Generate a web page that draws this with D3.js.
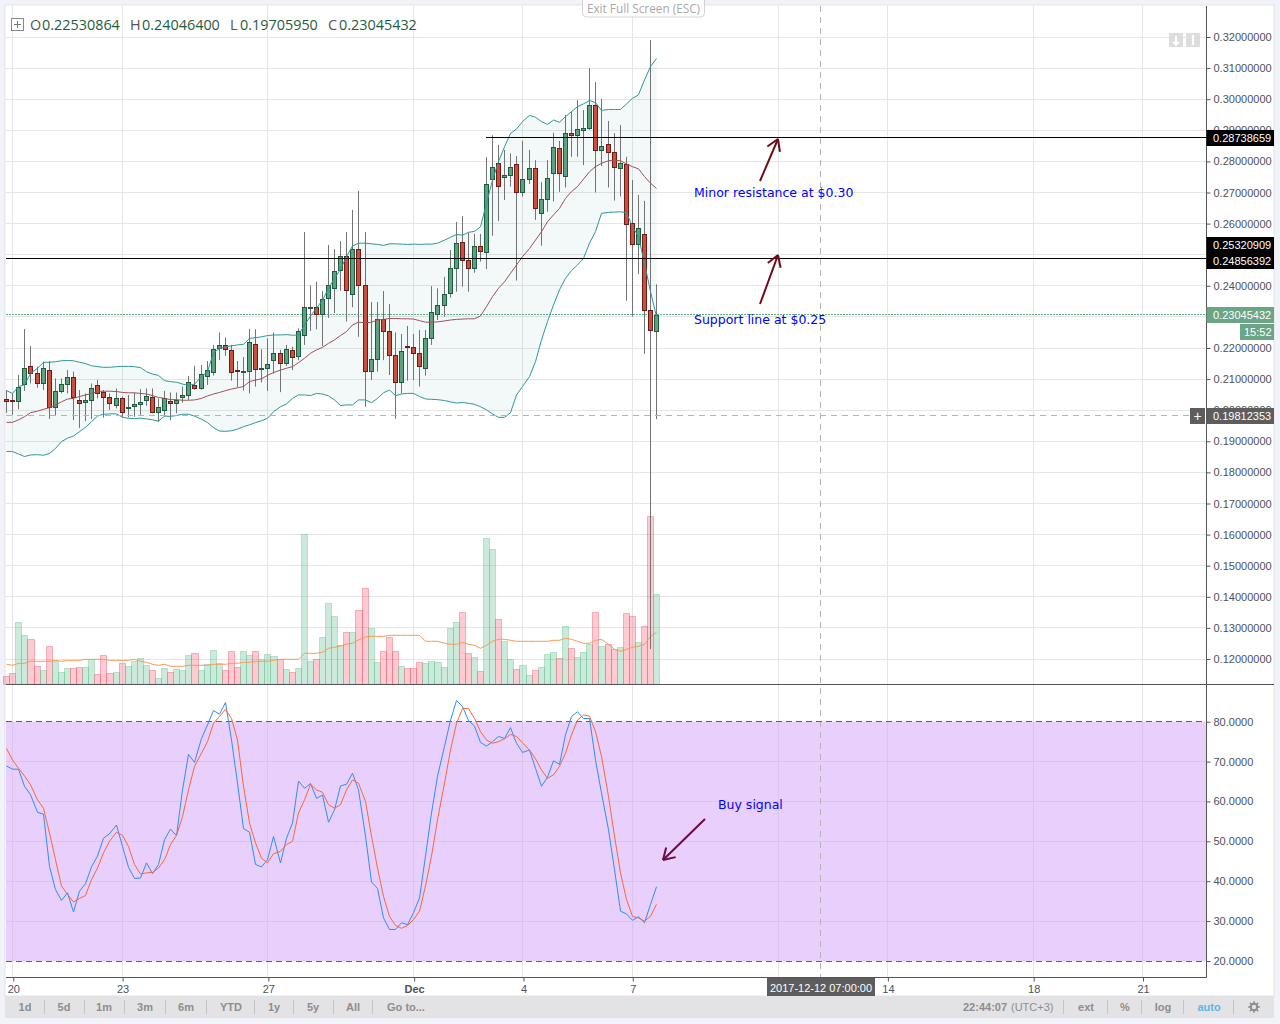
<!DOCTYPE html>
<html>
<head>
<meta charset="utf-8">
<script src="https://d3js.org/d3.v7.min.js"></script>
<style>
  body { margin: 0; background: #f1f3f9; }
  svg { display: block; }
  .axis text { font: 11px "Liberation Sans", Arial, sans-serif; fill: #4c525e; }
  .axis line { stroke: #555; }
  .axis path { display: none; }
  .flag { font: 11px "Liberation Sans", Arial, sans-serif; fill: #fff; }
  .note { font: 12.5px "DejaVu Sans", Verdana, sans-serif; fill: #0000ff; }
  .tool { font: bold 11px "Liberation Sans", Arial, sans-serif; fill: #8d8d8d; }
</style>
</head>
<body>
<div id="chart"></div>
<script>
// 4h candles
const opens = [.2035,.2030,.2027,.2083,.2141,.2118,.2085,.2128,.2008,.2060,
  .2082,.2106,.2032,.2024,.2031,.2080,.2057,.2041,.2015,.2038,
  .2005,.2011,.2018,.2031,.2042,.1992,.1999,.2029,.2021,.2040,
  .2047,.2080,.2069,.2108,.2121,.2198,.2209,.2193,.2128,.2124,
  .2124,.2212,.2131,.2134,.2159,.2183,.2150,.2193,.2172,.2240,
  .2327,.2331,.2307,.2359,.2391,.2449,.2495,.2373,.2518,.2401,
  .2125,.2164,.2292,.2254,.2176,.2090,.2204,.2202,.2183,.2135,
  .2231,.2309,.2337,.2376,.2456,.2540,.2482,.2456,.2527,.2508,
  .2742,.2794,.2749,.2755,.2791,.2701,.2742,.2778,.2633,.2678,
  .2762,.2842,.2752,.2890,.2883,.2900,.2906,.2980,.2836,.2855,
  .2829,.2778,.2791,.2601,.2533,.2565,.2321,.2253];
const highs = [.2065,.2054,.2113,.2261,.2206,.2140,.2156,.2158,.2102,.2102,
  .2129,.2124,.2065,.2054,.2086,.2097,.2065,.2054,.2070,.2044,
  .2049,.2056,.2068,.2070,.2070,.2038,.2062,.2057,.2057,.2076,
  .2110,.2143,.2145,.2158,.2210,.2250,.2234,.2210,.2158,.2171,
  .2261,.2260,.2196,.2231,.2250,.2194,.2210,.2204,.2263,.2573,
  .2401,.2413,.2383,.2531,.2518,.2544,.2573,.2644,.2705,.2573,
  .2348,.2348,.2383,.2341,.2250,.2245,.2271,.2245,.2258,.2258,
  .2399,.2392,.2429,.2515,.2605,.2624,.2571,.2567,.2567,.2814,
  .2884,.2853,.2837,.2826,.2817,.2866,.2837,.2804,.2733,.2804,
  .2892,.2866,.2949,.2962,.2997,.2965,.3100,.3055,.3001,.2930,
  .2891,.2917,.2815,.2740,.2692,.2673,.3190,.2405];
const lows = [.1992,.1985,.2003,.2062,.2086,.2072,.2065,.1972,.1983,.2054,
  .2054,.1968,.1943,.1965,.1972,.2038,.1976,.2001,.2006,.1977,
  .1977,.1979,.1985,.2014,.1990,.1963,.1981,.1968,.1990,.2024,
  .2033,.2066,.2066,.2081,.2111,.2161,.2175,.2095,.2074,.2063,
  .2054,.2076,.2089,.2062,.2118,.2058,.2142,.2129,.2161,.2210,
  .2255,.2260,.2206,.2297,.2312,.2384,.2285,.2331,.2236,.2011,
  .2097,.2124,.2161,.2113,.1973,.2054,.2095,.2097,.2076,.2111,
  .2210,.2290,.2301,.2362,.2381,.2397,.2381,.2442,.2478,.2454,
  .2561,.2609,.2676,.2719,.2417,.2687,.2727,.2612,.2529,.2638,
  .2671,.2702,.2716,.2815,.2815,.2788,.2901,.2700,.2785,.2716,
  .2674,.2687,.2352,.2301,.2438,.2181,.1232,.1971];
const closes = [.2027,.2027,.2074,.2135,.2117,.2085,.2135,.2008,.2061,.2083,
  .2106,.2040,.2021,.2032,.2070,.2054,.2040,.2021,.2038,.1992,
  .2009,.2019,.2025,.2045,.1992,.2009,.2038,.2021,.2032,.2048,
  .2090,.2069,.2115,.2128,.2196,.2209,.2195,.2121,.2124,.2126,
  .2218,.2130,.2134,.2147,.2183,.2150,.2196,.2169,.2254,.2331,
  .2329,.2307,.2356,.2401,.2447,.2495,.2384,.2518,.2401,.2124,
  .2164,.2292,.2254,.2175,.2090,.2189,.2202,.2183,.2140,.2231,
  .2315,.2337,.2373,.2456,.2537,.2482,.2456,.2527,.2510,.2726,
  .2781,.2719,.2755,.2781,.2701,.2742,.2778,.2649,.2678,.2746,
  .2845,.2762,.2890,.2883,.2903,.2906,.2980,.2836,.2848,.2829,
  .2781,.2794,.2598,.2533,.2585,.2321,.2257,.2305];

// Bollinger bands
const bbUpper = [.2063,.2054,.2076,.2082,.2118,.2135,.2154,.2154,.2156,.2159,
  .2160,.2159,.2154,.2150,.2143,.2140,.2138,.2138,.2140,.2141,
  .2141,.2140,.2137,.2124,.2116,.2112,.2095,.2092,.2090,.2084,
  .2080,.2084,.2108,.2124,.2185,.2198,.2204,.2207,.2210,.2212,
  .2231,.2233,.2236,.2240,.2242,.2242,.2243,.2241,.2242,.2274,
  .2303,.2328,.2354,.2392,.2424,.2453,.2494,.2528,.2537,.2537,
  .2535,.2533,.2530,.2535,.2535,.2534,.2533,.2534,.2533,.2534,
  .2534,.2537,.2547,.2556,.2565,.2563,.2572,.2575,.2590,.2665,
  .2740,.2799,.2847,.2890,.2904,.2928,.2948,.2942,.2928,.2919,
  .2933,.2926,.2944,.2960,.2976,.2985,.2996,.2989,.2964,.2967,
  .2967,.2967,.2985,.3003,.3014,.3062,.3105,.3131];
const bbBasis = [.1961,.1961,.1969,.1979,.1992,.1997,.2003,.2008,.2017,.2027,
  .2036,.2038,.2044,.2049,.2054,.2060,.2061,.2061,.2060,.2057,
  .2056,.2056,.2054,.2052,.2047,.2041,.2038,.2034,.2034,.2032,
  .2032,.2033,.2038,.2046,.2052,.2057,.2063,.2068,.2072,.2076,
  .2092,.2097,.2101,.2112,.2121,.2129,.2135,.2140,.2153,.2167,
  .2183,.2194,.2202,.2215,.2226,.2240,.2253,.2274,.2283,.2281,
  .2283,.2290,.2292,.2295,.2295,.2294,.2294,.2293,.2288,.2283,
  .2283,.2284,.2287,.2290,.2292,.2293,.2294,.2294,.2303,.2333,
  .2365,.2392,.2413,.2440,.2467,.2494,.2520,.2547,.2574,.2606,
  .2628,.2649,.2681,.2703,.2719,.2743,.2767,.2783,.2794,.2802,
  .2804,.2802,.2792,.2783,.2776,.2751,.2730,.2713];
const bbLower = [.1867,.1867,.1859,.1851,.1856,.1857,.1855,.1861,.1877,.1899,
  .1910,.1917,.1931,.1945,.1963,.1981,.1987,.1988,.1988,.1977,
  .1974,.1973,.1974,.1972,.1969,.1965,.1981,.1980,.1983,.1987,
  .1987,.1981,.1971,.1960,.1944,.1933,.1932,.1934,.1939,.1947,
  .1953,.1960,.1966,.1974,.1995,.2011,.2020,.2038,.2049,.2049,
  .2047,.2054,.2052,.2046,.2033,.2015,.2017,.2017,.2033,.2033,
  .2024,.2038,.2056,.2065,.2047,.2052,.2054,.2054,.2044,.2036,
  .2035,.2034,.2031,.2027,.2023,.2025,.2022,.2019,.2011,.2001,
  .1988,.1977,.1977,.1992,.2049,.2076,.2108,.2156,.2226,.2285,
  .2338,.2387,.2424,.2449,.2467,.2488,.2537,.2574,.2633,.2636,
  .2637,.2638,.2635,.2590,.2558,.2472,.2381,.2301];

// volume, unit is arbitrary (no volume axis in the picture)
const volumes = [24,33,186,147,135,54,42,114,69,36,
  48,48,51,51,75,30,87,33,36,63,
  54,69,78,57,42,18,48,36,45,42,
  87,93,42,60,102,63,42,99,51,99,
  87,99,75,90,84,75,45,36,48,450,
  69,75,141,243,204,115,156,156,222,288,
  168,66,99,141,99,54,48,48,66,63,
  69,66,51,168,186,216,93,81,39,438,
  405,195,129,75,45,57,27,42,51,90,
  96,78,174,108,81,96,120,216,114,120,
  105,111,213,204,126,174,504,270];
const volumeMa = [60,57,63,63,69,69,69,69,72,69,
  72,72,72,75,75,75,75,72,72,72,
  72,75,69,66,60,57,60,54,54,54,
  57,57,57,57,60,60,60,63,63,66,
  66,69,69,69,72,75,75,75,75,93,
  93,93,96,108,111,115,121,123,133,142,
  144,144,144,147,147,147,147,147,147,129,
  129,129,123,120,120,126,120,117,108,117,
  129,135,135,132,129,129,129,129,129,129,
  132,132,138,135,129,123,123,132,135,120,
  105,99,105,111,114,120,144,156];

// stochastic RSI
const stochK = [68.9,68.1,68.1,63.8,61.7,57.3,56.8,43.7,37.9,35.2,
  37.1,32.3,37.5,39.4,43.6,46.3,50.8,51.9,54.1,48.7,
  43.5,40.7,40.8,44.6,41.9,44.2,50.4,53.1,51.4,62.9,
  71.8,69.8,75.8,79.2,82.8,81.9,84.8,75.4,64.6,53.2,
  52.3,44.2,43.6,45.4,51.2,44.6,50.8,54.6,65.1,63.3,
  64.5,60.8,61.6,54.8,57.9,63.9,64.3,67.1,62.9,51.3,
  39.8,38.2,30.8,27.9,27.9,29.6,29.1,32.1,35.8,46.3,
  57.1,66.3,73.8,80.4,85.3,83.8,80.3,78.9,74.8,73.9,
  75.0,76.3,75.8,78.5,74.6,72.3,72.9,68.3,63.8,66.1,
  70.2,69.3,76.7,81.3,82.5,80.8,80.8,70.4,62.1,52.9,
  42.9,32.5,31.8,30.2,31.1,29.6,34.2,38.6];
const stochD = [73.3,70.4,68.3,66.4,64.2,60.4,58.3,52.1,45.4,38.8,
  36.7,34.8,35.7,36.4,40.4,43.3,47.1,50.0,52.3,51.5,
  48.7,44.2,41.8,42.1,42.2,43.3,45.4,49.2,51.5,56.2,
  62.9,68.8,72.1,75.0,79.6,81.3,83.1,80.8,75.4,63.8,
  54.6,49.6,45.8,44.6,46.9,47.5,49.2,50.0,57.1,60.4,
  64.3,62.9,62.3,59.2,58.3,59.2,62.9,65.4,64.6,60.0,
  51.3,43.3,36.2,31.2,28.9,28.2,28.9,30.4,32.5,38.8,
  46.3,55.4,64.6,72.9,79.6,83.3,83.3,80.8,77.5,75.4,
  74.6,75.0,75.7,76.8,76.3,74.7,72.9,70.7,67.9,65.8,
  66.7,68.8,72.1,76.7,80.4,81.7,81.4,77.5,71.3,61.3,
  51.3,42.1,35.4,31.2,30.8,30.0,31.2,34.2];

// axis ticks: bar index (including future bars) and label
const dateTickIndex = [1,19,43,67,85,103,127,145,169,187];
const dateTickLabel = ['20','23','27','Dec','4','7','','14','18','21'];
const priceTicks = d3.range(12,33).map(v => v / 100);
const stochTicks = [20,30,40,50,60,70,80];

const rangeButtons = [['1d',25],['5d',64],['1m',104],['3m',145],['6m',186],['YTD',231],['1y',274],['5y',313],['All',353],['Go to...',406]];
const rangeSeps = [44.5,84.5,124.5,165.5,206.5,254.5,293.5,333.5,372.5];
const rightSeps = [1063.5,1107.5,1141.5,1183.5,1233.5];

const left = 6, axisX = 1206.5, right = 1274;
const paneSplit = 684.5, axisBottom = 977.5;

const svg = d3.select('#chart').append('svg').attr('width', 1280).attr('height', 1024);

// scales
const x = d3.scaleLinear().domain([0, 107]).range([7.2, 657.1]);
const yPrice = d3.scaleLinear().domain([0.12, 0.32]).range([659, 37]);
const yVol = d3.scaleLinear().domain([0, 504]).range([684.3, 516.3]);
const yStoch = d3.scaleLinear().domain([20, 80]).range([961, 721.7]);

// candle column: wick sits on a whole pixel
const col = i => Math.floor(x(i) - 0.5) + 0.5;
const snap = v => Math.round(v - 0.5) + 0.5;
const bars = d3.range(opens.length);

// panel
svg.append('rect').attr('x', left - 1).attr('y', 5).attr('width', right - left + 1).attr('height', 991)
  .attr('fill', '#fff').attr('stroke', '#e0e3eb');

// stochastic band
svg.append('rect').attr('x', left).attr('y', yStoch(80)).attr('width', axisX - left)
  .attr('height', yStoch(20) - yStoch(80)).attr('fill', '#e9cffc');

// grid, purple where it crosses the band
const grid = svg.append('g');
grid.selectAll('.h').data(priceTicks).join('line')
  .attr('x1', left).attr('x2', axisX)
  .attr('y1', d => snap(yPrice(d))).attr('y2', d => snap(yPrice(d)))
  .attr('stroke', '#e6e6e6');
grid.selectAll('.v').data(dateTickIndex).join('line')
  .attr('x1', d => col(d)).attr('x2', d => col(d))
  .attr('y1', 6).attr('y2', axisBottom)
  .attr('stroke', '#e6e6e6');
grid.selectAll('.vs').data(dateTickIndex).join('line')
  .attr('x1', d => col(d)).attr('x2', d => col(d))
  .attr('y1', yStoch(80)).attr('y2', yStoch(20))
  .attr('stroke', '#dcc3ee');
grid.selectAll('.hs').data(stochTicks.slice(1, -1)).join('line')
  .attr('x1', left).attr('x2', axisX)
  .attr('y1', d => snap(yStoch(d))).attr('y2', d => snap(yStoch(d)))
  .attr('stroke', '#dcc3ee');

// volume
svg.append('g').selectAll('rect').data(bars).join('rect')
  .attr('x', i => col(i) - 3)
  .attr('y', i => snap(yVol(volumes[i])))
  .attr('width', i => col(i + 1) - col(i))
  .attr('height', i => yVol(0) - snap(yVol(volumes[i])))
  .attr('fill', i => closes[i] >= opens[i] ? 'rgba(83,185,135,0.3)' : 'rgba(255,82,105,0.3)')
  .attr('stroke', i => closes[i] >= opens[i] ? 'rgba(83,185,135,0.35)' : 'rgba(240,80,105,0.4)');
svg.append('path').datum(bars)
  .attr('fill', 'none').attr('stroke', '#f79a52').attr('stroke-width', 1)
  .attr('d', d3.line().x(i => col(i)).y(i => yVol(volumeMa[i])));

// bollinger
svg.append('path').datum(bars)
  .attr('fill', 'rgba(38,140,140,0.055)')
  .attr('d', d3.area().x(i => col(i)).y0(i => yPrice(bbLower[i])).y1(i => yPrice(bbUpper[i])));

// last price line under the candles
svg.append('line').attr('x1', left).attr('x2', axisX)
  .attr('y1', 314.5).attr('y2', 314.5)
  .attr('stroke', '#63ad88').attr('stroke-dasharray', '2 1');

// candles
const candle = svg.append('g');
candle.selectAll('line').data(bars).join('line')
  .attr('x1', i => col(i)).attr('x2', i => col(i))
  .attr('y1', i => yPrice(highs[i])).attr('y2', i => yPrice(lows[i]))
  .attr('stroke', '#737373');
candle.selectAll('rect').data(bars).join('rect')
  .attr('x', i => col(i) - 2)
  .attr('y', i => snap(yPrice(Math.max(opens[i], closes[i]))))
  .attr('width', 4)
  .attr('height', i => Math.max(1, snap(yPrice(Math.min(opens[i], closes[i]))) - snap(yPrice(Math.max(opens[i], closes[i])))))
  .attr('fill', i => closes[i] >= opens[i] ? '#5fa07f' : '#c9503c')
  .attr('stroke', i => closes[i] >= opens[i] ? '#1d5b3f' : '#6f1a16');

const priceLine = series => d3.line().x(i => col(i)).y(i => yPrice(series[i]));
const bandLine = (series, color) => svg.append('path').datum(bars)
  .attr('fill', 'none').attr('stroke', color).attr('stroke-width', 1)
  .attr('d', priceLine(series));
bandLine(bbUpper, '#2f9797');
bandLine(bbLower, '#2f9797');
bandLine(bbBasis, '#a05058');

// drawn lines
svg.append('line').attr('x1', 486).attr('x2', axisX).attr('y1', 137.5).attr('y2', 137.5).attr('stroke', '#000');
svg.append('line').attr('x1', left).attr('x2', axisX).attr('y1', 258.5).attr('y2', 258.5).attr('stroke', '#000');

// crosshair
svg.append('line').attr('x1', left).attr('x2', 1190).attr('y1', 415.5).attr('y2', 415.5)
  .attr('stroke', '#b4b4b4').attr('stroke-dasharray', '6 5');
svg.append('line').attr('x1', col(134)).attr('x2', col(134)).attr('y1', 6).attr('y2', axisBottom)
  .attr('stroke', '#b4b4b4').attr('stroke-dasharray', '6 5');

// stochastic lines and limits
stochTicks.filter(d => d === 20 || d === 80).forEach(d => {
  svg.append('line').attr('x1', left).attr('x2', axisX)
    .attr('y1', snap(yStoch(d))).attr('y2', snap(yStoch(d)))
    .attr('stroke', '#6a5a70').attr('stroke-dasharray', '6 4');
});
const stochLine = d3.line().x(i => col(i));
svg.append('path').datum(bars).attr('fill', 'none').attr('stroke', '#2f8ff0').attr('stroke-width', 1)
  .attr('d', stochLine.y(i => yStoch(stochK[i])));
svg.append('path').datum(bars).attr('fill', 'none').attr('stroke', '#f4693c').attr('stroke-width', 1)
  .attr('d', stochLine.y(i => yStoch(stochD[i])));

// pane borders
svg.append('line').attr('x1', left).attr('x2', right).attr('y1', paneSplit).attr('y2', paneSplit).attr('stroke', '#555');
svg.append('line').attr('x1', left).attr('x2', axisX).attr('y1', axisBottom).attr('y2', axisBottom).attr('stroke', '#555');
svg.append('line').attr('x1', axisX).attr('x2', axisX).attr('y1', 6).attr('y2', axisBottom).attr('stroke', '#555');

// axes (0.25 sits under the two flags in the picture, so no label for it)
svg.append('g').attr('class', 'axis').attr('transform', `translate(${axisX},0)`)
  .call(d3.axisRight(yPrice).tickValues(priceTicks)
    .tickFormat(d => Math.abs(d - 0.25) < 1e-9 ? '' : d3.format('.8f')(d)).tickSize(4).tickPadding(3));
svg.append('g').attr('class', 'axis').attr('transform', `translate(${axisX},0)`)
  .call(d3.axisRight(yStoch).tickValues(stochTicks).tickFormat(d3.format('.4f')).tickSize(4).tickPadding(3));
const dateAxis = svg.append('g').attr('class', 'axis').attr('transform', `translate(0,${axisBottom})`)
  .call(d3.axisBottom(x).tickValues(dateTickIndex.filter(d => d !== 127))
    .tickFormat(d => dateTickLabel[dateTickIndex.indexOf(d)]).tickSize(4).tickPadding(4));
dateAxis.selectAll('text').style('font-weight', d => d === 67 ? 'bold' : null);

// price flags
function flag(yTop, label, fill, x0 = axisX, w = right - axisX, textX = 1213) {
  svg.append('rect').attr('x', x0).attr('y', yTop).attr('width', w).attr('height', 16).attr('fill', fill);
  svg.append('text').attr('class', 'flag').attr('x', textX).attr('y', yTop + 12).text(label);
}
flag(130, '0.28738659', '#000');
flag(237, '0.25320909', '#000');
flag(253, '0.24856392', '#000');
flag(307, '0.23045432', '#6ba585');
flag(324, '15:52', '#6ba585', 1240, 34, 1244);
flag(408, '0.19812353', '#5d5d5d');
svg.append('rect').attr('x', 1190).attr('y', 408).attr('width', 15).attr('height', 16).attr('fill', '#5d5d5d');
svg.append('text').attr('class', 'flag').attr('x', 1197.5).attr('y', 421).attr('text-anchor', 'middle').style('font-size', '14px').text('+');

// date flag
svg.append('rect').attr('x', 767).attr('y', 978).attr('width', 108).attr('height', 18).attr('fill', '#5d5d5d');
svg.append('text').attr('class', 'flag').attr('x', 821).attr('y', 992).attr('text-anchor', 'middle').text('2017-12-12 07:00:00');

// annotations
svg.append('text').attr('class', 'note').attr('x', 694).attr('y', 197).text('Minor resistance at $0.30');
svg.append('text').attr('class', 'note').attr('x', 694).attr('y', 324).text('Support line at $0.25');
svg.append('text').attr('class', 'note').attr('x', 718).attr('y', 809).text('Buy signal');
function arrow(x1, y1, x2, y2, color) {
  const a = Math.atan2(y2 - y1, x2 - x1), len = 13;
  const g = svg.append('g').attr('fill', 'none').attr('stroke', color).attr('stroke-width', 2);
  g.append('line').attr('x1', x1).attr('y1', y1).attr('x2', x2).attr('y2', y2);
  [-0.55, 0.55].forEach(da => {
    g.append('line').attr('x1', x2).attr('y1', y2)
      .attr('x2', x2 - len * Math.cos(a + da)).attr('y2', y2 - len * Math.sin(a + da));
  });
}
arrow(760, 181, 778, 139, '#6d0c14');
arrow(760, 304, 778, 255, '#6d0c14');
arrow(705, 819, 663, 860, '#6b0a40');

// legend line
svg.append('rect').attr('x', 11.5).attr('y', 18.5).attr('width', 12).attr('height', 12).attr('fill', '#fff').attr('stroke', '#888');
svg.append('path').attr('d', 'M14 24.5H21M17.5 21V28').attr('stroke', '#777');
const legend = [['O', 30, '0.22530864', 42], ['H', 130, '0.24046400', 142], ['L', 230, '0.19705950', 240], ['C', 328, '0.23045432', 339]];
legend.forEach(([k, kx, v, vx]) => {
  svg.append('text').attr('x', kx).attr('y', 30).attr('fill', '#555').style('font', '14.4px "Open Sans", sans-serif').text(k);
  svg.append('text').attr('x', vx).attr('y', 30).attr('fill', '#1f5c3e').style('font', '14.4px "Open Sans", sans-serif').text(v);
});

// exit full screen pill
svg.append('rect').attr('x', 582.5).attr('y', -4).attr('width', 122).attr('height', 21).attr('rx', 4)
  .attr('fill', '#fff').attr('stroke', '#d4d4d4');
svg.append('text').attr('x', 643.5).attr('y', 12.5).attr('text-anchor', 'middle').attr('fill', '#a8a8a8')
  .style('font', '11.8px "Open Sans", sans-serif').text('Exit Full Screen (ESC)');

// scale buttons at top right
[1169, 1186].forEach((bx, k) => {
  svg.append('rect').attr('x', bx).attr('y', 33).attr('width', 14).attr('height', 14).attr('fill', '#dedede');
  svg.append('path').attr('fill', 'none').attr('stroke', '#fff').attr('stroke-width', 2)
    .attr('d', k === 0 ? `M${bx + 7} 36V44M${bx + 4.5} 42L${bx + 7} 45L${bx + 9.5} 42` : `M${bx + 7} 35V45`);
});

// toolbar
svg.append('rect').attr('x', 5).attr('y', 996).attr('width', right - 5).attr('height', 22).attr('fill', '#e3e3e5');
rangeButtons.forEach(([t, tx]) => {
  svg.append('text').attr('class', 'tool').attr('x', tx).attr('y', 1011).attr('text-anchor', 'middle').text(t);
});
rangeSeps.concat(rightSeps).forEach(sx => {
  svg.append('line').attr('x1', sx).attr('x2', sx).attr('y1', 1000).attr('y2', 1014).attr('stroke', '#c4c4c6');
});
svg.append('text').attr('class', 'tool').attr('x', 963).attr('y', 1011).text('22:44:07');
svg.append('text').attr('class', 'tool').attr('x', 1011).attr('y', 1011).style('font-weight', 'normal').text('(UTC+3)');
[['ext', 1086], ['%', 1125], ['log', 1163]].forEach(([t, tx]) => {
  svg.append('text').attr('class', 'tool').attr('x', tx).attr('y', 1011).attr('text-anchor', 'middle').text(t);
});
svg.append('text').attr('class', 'tool').attr('x', 1209).attr('y', 1011).attr('text-anchor', 'middle').style('fill', '#5fb4e8').text('auto');
// gear
const gear = svg.append('g').attr('transform', 'translate(1254,1007)').attr('fill', 'none').attr('stroke', '#8d8d8d');
gear.append('circle').attr('r', 3.2).attr('stroke-width', 2);
d3.range(8).forEach(k => {
  const a = k * Math.PI / 4;
  gear.append('line').attr('stroke-width', 1.6)
    .attr('x1', 3.6 * Math.cos(a)).attr('y1', 3.6 * Math.sin(a))
    .attr('x2', 5.8 * Math.cos(a)).attr('y2', 5.8 * Math.sin(a));
});
</script>
</body>
</html>
